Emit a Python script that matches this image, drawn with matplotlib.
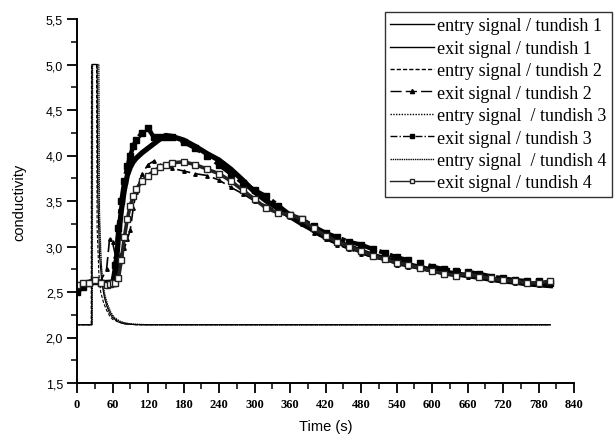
import numpy as np
import matplotlib.pyplot as plt
from matplotlib.ticker import MultipleLocator, FuncFormatter

# entry signals (tracer pulse)
t_in1 = [0, 25, 25.5, 34, 35, 38, 42, 46, 50, 55, 60, 70, 80, 100, 800]
v_in1 = [2.14, 2.14, 5.0, 5.0, 3.6, 2.9, 2.6, 2.45, 2.35, 2.27, 2.22, 2.17, 2.15, 2.14, 2.14]
t_in2 = [0, 24, 24.5, 33, 34, 37, 40, 45, 50, 55, 60, 70, 80, 100, 800]
v_in2 = [2.14, 2.14, 5.0, 5.0, 3.2, 2.7, 2.5, 2.38, 2.3, 2.24, 2.2, 2.17, 2.15, 2.14, 2.14]
t_in3 = [0, 26, 26.5, 35, 36, 39, 43, 47, 52, 57, 62, 72, 85, 110, 800]
v_in3 = [2.14, 2.14, 5.0, 5.0, 3.8, 3.0, 2.65, 2.48, 2.36, 2.28, 2.23, 2.18, 2.15, 2.14, 2.14]
t_in4 = [0, 25, 25.5, 37, 38, 41, 44, 48, 53, 58, 63, 75, 90, 120, 800]
v_in4 = [2.14, 2.14, 5.0, 5.0, 3.4, 2.8, 2.55, 2.42, 2.33, 2.26, 2.21, 2.17, 2.15, 2.14, 2.14]

# exit signals
t_out = [0, 10, 20, 30, 40, 50, 55, 60, 65, 70, 75, 80, 85, 90, 95, 100, 110, 120,
         130, 140, 150, 160, 180, 200, 220, 240, 260, 280, 300, 320, 340, 360, 380,
         400, 420, 440, 460, 480, 500, 520, 540, 560, 580, 600, 620, 640, 660, 680,
         700, 720, 740, 760, 780, 800]
v_out1 = [2.55, 2.58, 2.6, 2.63, 2.6, 2.58, 2.59, 2.6, 2.7, 3.1, 3.4, 3.62, 3.78, 3.87,
          3.93, 3.97, 4.03, 4.08, 4.13, 4.18, 4.22, 4.21, 4.17, 4.1, 4.02, 3.95, 3.85,
          3.73, 3.6, 3.5, 3.42, 3.33, 3.25, 3.18, 3.1, 3.05, 3.0, 2.95, 2.9, 2.87, 2.83,
          2.8, 2.77, 2.74, 2.72, 2.7, 2.68, 2.66, 2.64, 2.62, 2.61, 2.59, 2.58, 2.57]
v_out2 = [2.6, 2.6, 2.62, 2.64, 2.62, 2.75, 3.08, 3.05, 2.9, 2.88, 2.92, 2.98, 3.08,
          3.18, 3.42, 3.6, 3.8, 3.9, 3.94, 3.9, 3.88, 3.86, 3.83, 3.8, 3.78, 3.73, 3.65,
          3.58, 3.5, 3.45, 3.38, 3.32, 3.25, 3.15, 3.08, 3.02, 2.97, 2.92, 2.88, 2.85,
          2.8, 2.78, 2.75, 2.72, 2.7, 2.68, 2.66, 2.65, 2.63, 2.62, 2.6, 2.6, 2.58, 2.58]
v_out3 = [2.5, 2.55, 2.6, 2.62, 2.6, 2.6, 2.6, 2.6, 2.8, 3.2, 3.5, 3.72, 3.88, 4.0,
          4.1, 4.17, 4.25, 4.3, 4.2, 4.2, 4.2, 4.2, 4.15, 4.08, 4.0, 3.9, 3.8, 3.7,
          3.62, 3.55, 3.45, 3.35, 3.3, 3.22, 3.15, 3.1, 3.05, 3.02, 2.97, 2.93, 2.88,
          2.85, 2.82, 2.78, 2.75, 2.73, 2.72, 2.7, 2.67, 2.65, 2.63, 2.62, 2.62, 2.6]
v_out4 = [2.58, 2.6, 2.6, 2.63, 2.6, 2.58, 2.59, 2.6, 2.6, 2.65, 2.85, 3.1, 3.3, 3.45,
          3.55, 3.63, 3.72, 3.78, 3.83, 3.87, 3.9, 3.92, 3.93, 3.9, 3.85, 3.8, 3.72,
          3.62, 3.52, 3.42, 3.37, 3.35, 3.3, 3.2, 3.12, 3.05, 3.0, 2.95, 2.9, 2.86, 2.82,
          2.8, 2.76, 2.73, 2.7, 2.68, 2.7, 2.67, 2.65, 2.63, 2.62, 2.6, 2.6, 2.62]

labels = ["entry signal / tundish 1", "exit signal / tundish 1",
          "entry signal / tundish 2", "exit signal / tundish 2",
          "entry signal  / tundish 3", "exit signal / tundish 3",
          "entry signal  / tundish 4", "exit signal / tundish 4"]

fig = plt.figure(figsize=(6.16, 4.39), dpi=100)
ax = fig.add_axes([77/616, 1-384/439, (574-77)/616, (384-20)/439])

k = 'black'
ax.plot(t_in1, v_in1, color=k, lw=0.8, label=labels[0])
l1, = ax.plot(t_out, v_out1, color=k, lw=3.8, label=labels[1])
ax.plot(t_in2, v_in2, color=k, lw=0.8, ls=(0, (3, 1.5)), label=labels[2])
ax.plot(t_out, v_out2, color=k, lw=1.2, ls=(0, (8, 3)), marker='^', ms=2.5,
        label=labels[3])
ax.plot(t_in3, v_in3, color=k, lw=0.8, ls=(0, (1, 1)), label=labels[4])
ax.plot(t_out, v_out3, color=k, lw=3.2, ls=(0, (5, 1.5, 1, 1.5)), marker='s', ms=4,
        label=labels[5])
ax.plot(t_in4, v_in4, color=k, lw=0.9, ls=(0, (1, 0.6)), label=labels[6])
ax.plot(t_out, v_out4, color='#222222', lw=2.6, marker='s', ms=5, mfc='white',
        mew=1.0, label=labels[7])

ax.set_xlim(0, 840)
ax.set_ylim(1.5, 5.5)
ax.spines['top'].set_visible(False)
ax.spines['right'].set_visible(False)
ax.spines['left'].set_linewidth(1.4)
ax.spines['bottom'].set_linewidth(1.4)

ax.xaxis.set_major_locator(MultipleLocator(60))
ax.xaxis.set_minor_locator(MultipleLocator(30))
ax.yaxis.set_major_locator(MultipleLocator(0.5))
ax.yaxis.set_minor_locator(MultipleLocator(0.25))
ax.yaxis.set_major_formatter(FuncFormatter(lambda v, p: f"{v:.1f}".replace('.', ',')))
ax.tick_params(which='major', direction='out', length=7, width=1.3)
ax.tick_params(which='minor', direction='out', length=4, width=1.1)
ax.tick_params(axis='y', labelsize=9, pad=3)
for lab in ax.get_yticklabels():
    lab.set_family('Liberation Sans')
ax.tick_params(axis='x', labelsize=9, pad=4)
for lab in ax.get_xticklabels():
    lab.set_family('Liberation Serif')
    lab.set_fontweight('bold')

ax.set_xlabel("Time (s)", family='Liberation Sans', fontsize=10.5, labelpad=6)
ax.set_ylabel("conductivity", family='Liberation Sans', fontsize=10.5, labelpad=14)

leg = fig.legend(loc='upper right', bbox_to_anchor=(612/616, 1-13/439),
                 prop={'family': 'Liberation Serif', 'size': 13},
                 frameon=True, fancybox=False, edgecolor='black',
                 handlelength=2.4, handletextpad=0.2, borderaxespad=0,
                 labelspacing=0.3, borderpad=0.3)
leg.get_frame().set_linewidth(1.0)
for h in leg.get_lines():
    h.set_linewidth(1.0)
    h.set_markersize(3)

fig.savefig("out.png", dpi=100)
